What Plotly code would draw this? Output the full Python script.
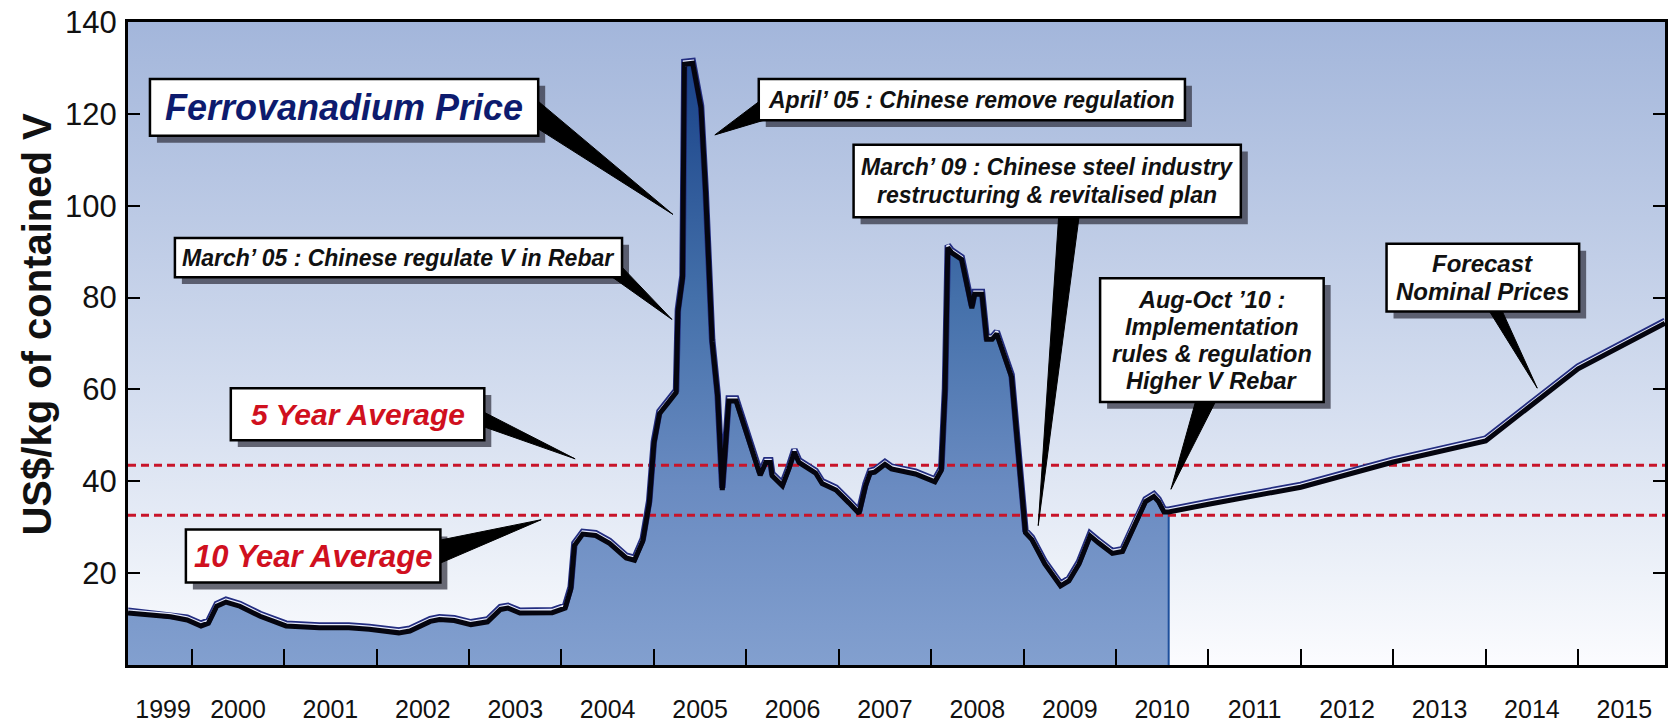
import plotly.graph_objects as go

# ---------------- data ----------------
# Historic ferrovanadium price (US$/kg of contained V), decimal years
hist_year = [
    1999.31, 1999.55, 1999.77, 1999.95, 2000.10, 2000.18, 2000.27, 2000.37, 2000.52, 2000.74,
    2001.02, 2001.38, 2001.70, 2001.92, 2002.24, 2002.36, 2002.58, 2002.68, 2002.84, 2003.02,
    2003.20, 2003.34, 2003.42, 2003.55, 2003.90, 2004.04, 2004.10, 2004.14, 2004.23, 2004.37,
    2004.52, 2004.70, 2004.79, 2004.88, 2004.95, 2005.00, 2005.06, 2005.17, 2005.24, 2005.26,
    2005.31, 2005.33, 2005.42, 2005.51, 2005.56, 2005.63, 2005.69, 2005.74, 2005.81, 2005.89,
    2005.99, 2006.10, 2006.15, 2006.21, 2006.26, 2006.28, 2006.39, 2006.46, 2006.52, 2006.57,
    2006.64, 2006.75, 2006.82, 2006.97, 2007.11, 2007.22, 2007.29, 2007.34, 2007.39, 2007.50,
    2007.57, 2007.83, 2008.04, 2008.11, 2008.15, 2008.18, 2008.22, 2008.33, 2008.44, 2008.47,
    2008.55, 2008.60, 2008.66, 2008.71, 2008.87, 2008.94, 2009.02, 2009.09, 2009.23, 2009.40,
    2009.49, 2009.60, 2009.72, 2009.81, 2009.96, 2010.07, 2010.21, 2010.32, 2010.41, 2010.46,
    2010.52, 2010.57,
]
hist_price = [
    11.8, 11.3, 11.0, 10.3, 9.0, 9.6, 13.3, 14.2, 13.3, 11.1,
    9.0, 8.6, 8.6, 8.3, 7.5, 7.9, 10.0, 10.4, 10.2, 9.3,
    9.9, 12.6, 12.9, 11.8, 11.9, 12.9, 17.0, 26.5, 29.0, 28.7,
    27.0, 23.8, 23.3, 27.5, 35.8, 48.7, 55.2, 58.0, 59.8, 77.4,
    84.8, 131.3, 131.5, 121.8, 103.3, 70.9, 58.9, 38.6, 58.0, 58.0,
    51.5, 45.0, 41.8, 44.6, 44.6, 41.7, 39.5, 43.2, 46.9, 44.6,
    43.7, 42.3, 40.0, 38.6, 35.8, 33.5, 39.5, 42.3, 42.5, 44.2,
    43.2, 42.1, 40.4, 42.9, 60.2, 91.4, 90.3, 88.8, 78.2, 81.2,
    81.2, 71.4, 71.4, 72.6, 63.2, 47.4, 29.3, 27.8, 22.5, 17.7,
    18.8, 22.5, 28.6, 27.1, 24.8, 25.2, 31.6, 36.1, 37.2, 36.1,
    33.8, 33.8,
]

# Forecast nominal prices
fcst_year = [2010.57, 2011.00, 2012.00, 2013.00, 2014.00, 2015.00, 2015.94]
fcst_price = [33.8, 35.5, 39.2, 44.7, 49.3, 65.0, 74.9]

five_year_avg = 43.5
ten_year_avg = 32.6

year_labels = list(range(1999, 2016))
year_bounds = list(range(2000, 2016))
y_ticks = [20, 40, 60, 80, 100, 120, 140]

# ---------------- layout geometry ----------------
W, H = 1669, 724
MARGIN = dict(l=128, r=1, t=22, b=47)
X_RANGE = [1999.31, 2015.94]
Y_RANGE = [0, 140]
PLOT_W = W - MARGIN["l"] - MARGIN["r"]
PLOT_H = H - MARGIN["t"] - MARGIN["b"]

FONT = "Liberation Sans, Arial, Helvetica, sans-serif"


def px(x):
    return (x - MARGIN["l"]) / PLOT_W


def py(y):
    return (H - MARGIN["b"] - y) / PLOT_H


fig = go.Figure()

# Gradient backdrop of the plotting area
fig.add_trace(go.Scatter(
    x=X_RANGE, y=[Y_RANGE[1], Y_RANGE[1]], mode="none", fill="tozeroy",
    fillgradient=dict(type="vertical", start=Y_RANGE[0], stop=Y_RANGE[1],
                      colorscale=[[0, "#fdfdff"], [0.15, "#eef2f9"], [0.4, "#d6dff0"],
                                  [0.7, "#bccae5"], [1, "#a3b6db"]]),
    hoverinfo="skip", showlegend=False))

# Filled area under the historic prices
fig.add_trace(go.Scatter(
    x=hist_year, y=hist_price, mode="none", fill="tozeroy",
    fillgradient=dict(type="vertical", start=0, stop=135,
                      colorscale=[[0, "#84a1d0"], [0.3, "#6a8bc1"], [0.6, "#4470aa"],
                                  [1, "#163f86"]]),
    hoverinfo="skip", showlegend=False))

# Right edge of the historic area
fig.add_trace(go.Scatter(
    x=[hist_year[-1], hist_year[-1]], y=[0, hist_price[-1]], mode="lines",
    line=dict(color="#1d4f9c", width=2), hoverinfo="skip", showlegend=False))

# Average reference lines
for avg in (five_year_avg, ten_year_avg):
    fig.add_trace(go.Scatter(
        x=X_RANGE, y=[avg, avg], mode="lines",
        line=dict(color="#c8142a", width=3, dash="8px,5px"),
        hoverinfo="skip", showlegend=False))

# Price line: historic followed by forecast
line_x = hist_year + fcst_year[1:]
line_y = hist_price + fcst_price[1:]

# drop shadow drawn on a slightly shifted overlay axis
fig.add_trace(go.Scatter(
    x=line_x, y=line_y, mode="lines", yaxis="y2",
    line=dict(color="#05050f", width=5), hoverinfo="skip", showlegend=False))
fig.add_trace(go.Scatter(
    x=line_x, y=line_y, mode="lines",
    line=dict(color="#232d80", width=6.5), hoverinfo="skip", showlegend=False))
fig.add_trace(go.Scatter(
    x=line_x, y=line_y, mode="lines",
    line=dict(color="#e6eafb", width=3), hoverinfo="skip", showlegend=False))

# ---------------- callouts ----------------
callouts = [
    dict(lines=["Ferrovanadium Price"], size=36, color="#0d1b6e", pitch=0,
         box=(150, 80, 539, 138), wedge=[(530, 95), (530, 125), (674, 218)]),
    dict(lines=["April’ 05 : Chinese remove regulation"], size=23, color="#111111", pitch=0,
         box=(760, 80, 1187, 122), wedge=[(772, 94), (772, 120), (716, 137)]),
    dict(lines=["March’ 05 : Chinese regulate V in Rebar"], size=23, color="#111111", pitch=0,
         box=(175, 242, 623, 282), wedge=[(612, 260), (612, 281), (673, 325)]),
    dict(lines=["March’ 09 : Chinese steel industry", "restructuring & revitalised plan"],
         size=23, color="#111111", pitch=28,
         box=(855, 147, 1243, 221), wedge=[(1061, 212), (1082, 212), (1040, 535)]),
    dict(lines=["Aug-Oct ’10 :", "Implementation", "rules & regulation", "Higher V Rebar"],
         size=23.5, color="#111111", pitch=27.5,
         box=(1102, 283, 1326, 409), wedge=[(1200, 400), (1222, 400), (1173, 498)]),
    dict(lines=["Forecast", "Nominal Prices"], size=24, color="#111111", pitch=28,
         box=(1389, 248, 1582, 317), wedge=[(1488, 310), (1502, 310), (1540, 395)]),
    dict(lines=["5 Year Average"], size=30, color="#d0101e", pitch=0,
         box=(231, 395, 485, 448), wedge=[(478, 416), (478, 432), (576, 467)]),
    dict(lines=["10 Year Average"], size=31, color="#d0101e", pitch=0,
         box=(186, 539, 441, 593), wedge=[(430, 552), (430, 578), (542, 529)]),
]

shapes = []
annotations = []
SH = 7  # shadow offset in pixels

for c in callouts:
    x0, y0, x1, y1 = c["box"]
    shapes.append(dict(type="rect", xref="paper", yref="paper", layer="above",
                       x0=px(x0 + SH), x1=px(x1 + SH), y0=py(y0 + SH), y1=py(y1 + SH),
                       fillcolor="rgba(45,45,60,0.7)", line=dict(width=0)))
for c in callouts:
    pts = c["wedge"]
    path = "M {} {} L {} {} L {} {} Z".format(
        px(pts[0][0]), py(pts[0][1]), px(pts[1][0]), py(pts[1][1]), px(pts[2][0]), py(pts[2][1]))
    shapes.append(dict(type="path", xref="paper", yref="paper", layer="above", path=path,
                       fillcolor="#000000", line=dict(color="#000000", width=1)))
for c in callouts:
    x0, y0, x1, y1 = c["box"]
    shapes.append(dict(type="rect", xref="paper", yref="paper", layer="above",
                       x0=px(x0), x1=px(x1), y0=py(y0), y1=py(y1),
                       fillcolor="#ffffff", line=dict(color="#000000", width=2.5)))
    cx = (x0 + x1) / 2
    cy = (y0 + y1) / 2
    n = len(c["lines"])
    for i, txt in enumerate(c["lines"]):
        ly = cy + (i - (n - 1) / 2) * c["pitch"]
        annotations.append(dict(
            text=txt, xref="paper", yref="paper", x=px(cx), y=py(ly),
            xanchor="center", yanchor="middle", showarrow=False,
            font=dict(family=FONT, size=c["size"], color=c["color"],
                      weight="bold", style="italic")))

# Y axis title
annotations.append(dict(
    text="US$/kg of contained V", xref="paper", yref="paper",
    x=px(37), y=py(330), xanchor="center", yanchor="middle", textangle=-90,
    showarrow=False, font=dict(family=FONT, size=40, color="#111111", weight="bold")))

label_pos = [max(y + 0.5, X_RANGE[0] + 0.38) for y in year_labels]

fig.update_layout(
    width=W, height=H,
    margin=MARGIN,
    paper_bgcolor="#ffffff",
    plot_bgcolor="#ffffff",
    showlegend=False,
    shapes=shapes,
    annotations=annotations,
    xaxis=dict(
        range=X_RANGE, showgrid=False, zeroline=False,
        showline=True, linecolor="#000000", linewidth=3, mirror=True,
        tickvals=label_pos, ticktext=[str(y) for y in year_labels], ticks="",
        ticklabelstandoff=20,
        tickfont=dict(family=FONT, size=25, color="#111111"),
        minor=dict(tickvals=year_bounds, ticks="inside", ticklen=16, tickwidth=2,
                   tickcolor="#000000"),
    ),
    yaxis=dict(
        range=Y_RANGE, showgrid=False, zeroline=False,
        showline=True, linecolor="#000000", linewidth=3, mirror="ticks",
        tickvals=y_ticks, ticks="inside", ticklen=12, tickwidth=2, tickcolor="#000000",
        ticklabelstandoff=2,
        tickfont=dict(family=FONT, size=31, color="#111111"),
    ),
    yaxis2=dict(range=[Y_RANGE[0] + 0.5, Y_RANGE[1] + 0.5], overlaying="y",
                visible=False, showgrid=False, zeroline=False),
)

fig.write_html("out.html")
